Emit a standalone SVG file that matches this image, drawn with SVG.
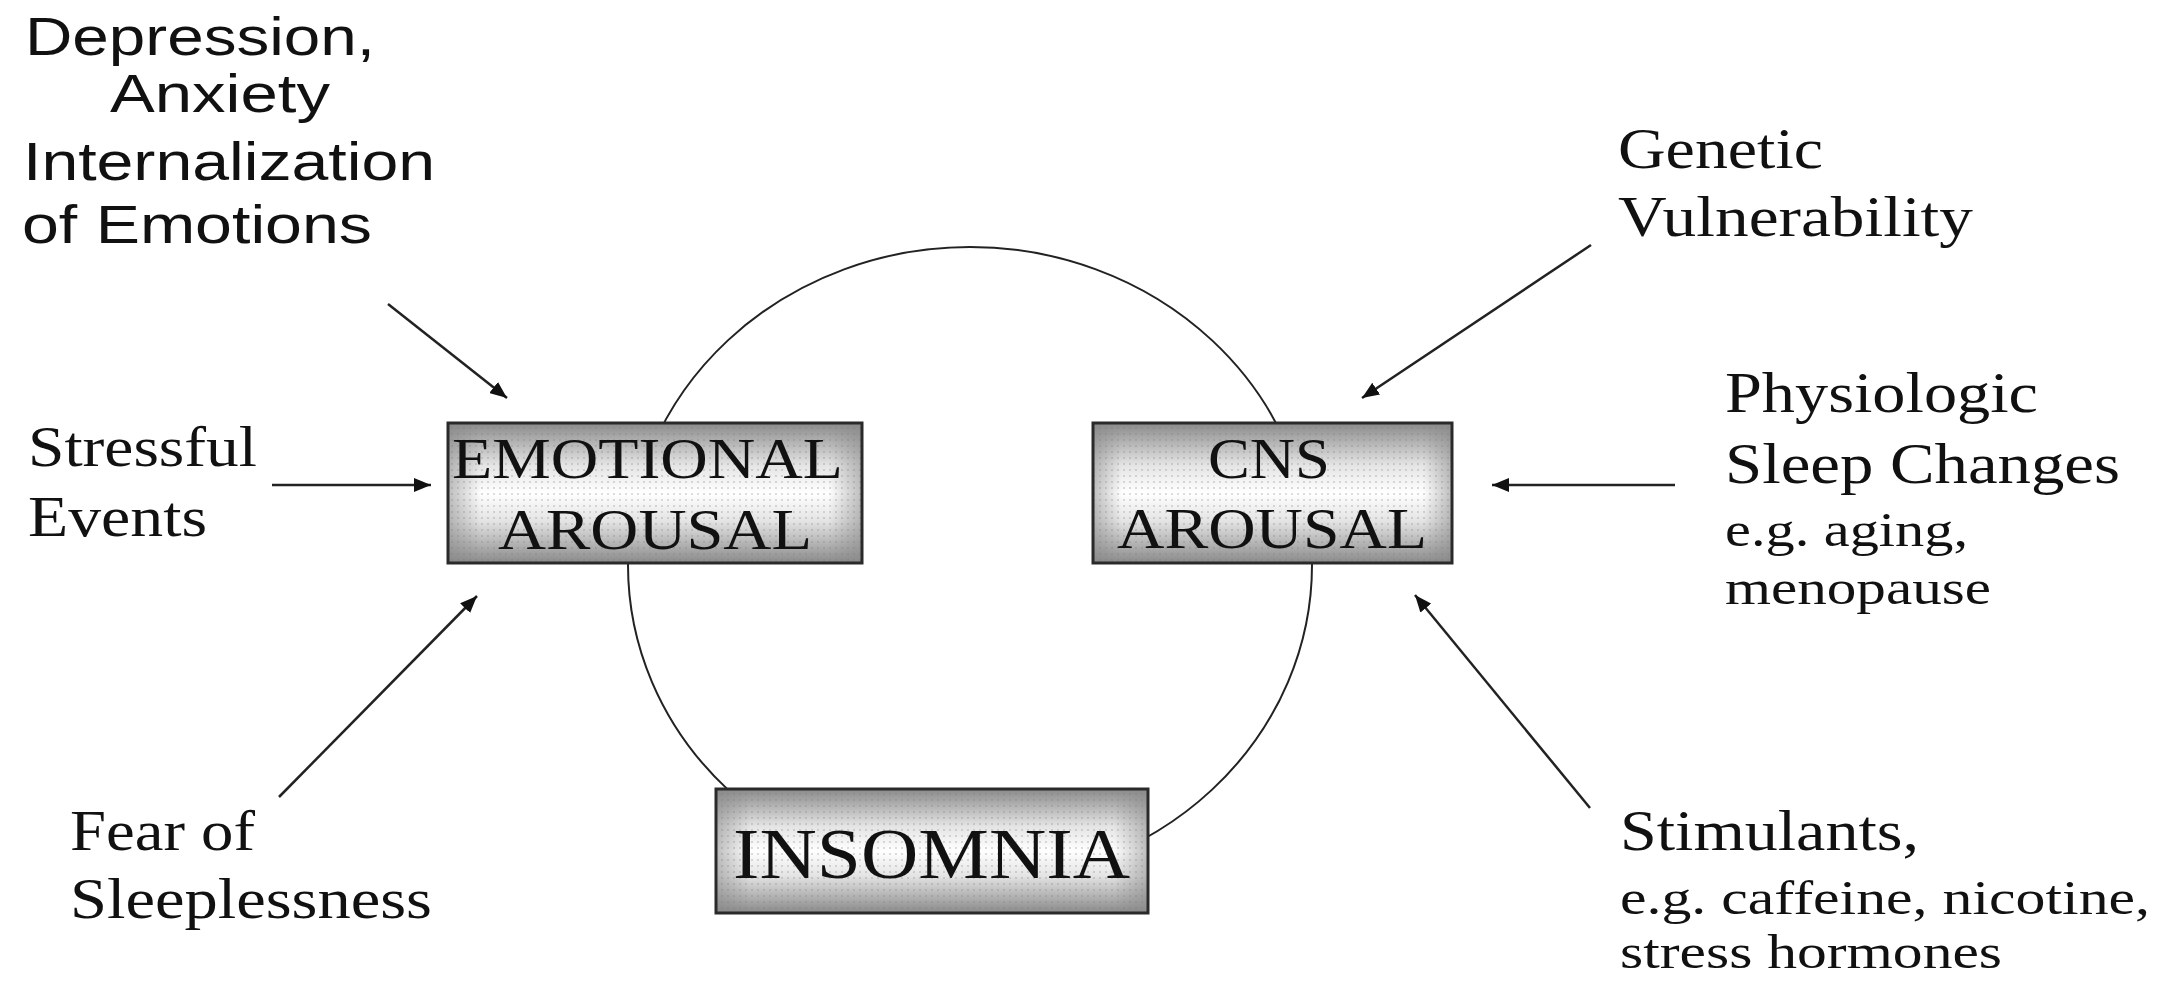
<svg xmlns="http://www.w3.org/2000/svg" width="2165" height="982" viewBox="0 0 2165 982">
<style>
.serif{font-family:"Liberation Serif","Times New Roman",serif;fill:#111}
.sans{font-family:"Liberation Sans",Arial,sans-serif;fill:#111}
.big{font-size:58px}
.small{font-size:48px}
.box{stroke:#2a2a2a;stroke-width:3}
.conn{stroke:#222;stroke-width:2.5;fill:none}
.cycle{stroke:#222;stroke-width:2;fill:none}
</style>
<defs>
<linearGradient id="gv" x1="0" y1="0" x2="0" y2="1">
<stop offset="0" stop-color="#8a8a8a"/>
<stop offset="0.3" stop-color="#e4e4e4"/>
<stop offset="0.5" stop-color="#ffffff"/>
<stop offset="0.7" stop-color="#e4e4e4"/>
<stop offset="1" stop-color="#8a8a8a"/>
</linearGradient>
<linearGradient id="gh" x1="0" y1="0" x2="1" y2="0">
<stop offset="0" stop-color="#888" stop-opacity="0.55"/>
<stop offset="0.08" stop-color="#888" stop-opacity="0"/>
<stop offset="0.92" stop-color="#888" stop-opacity="0"/>
<stop offset="1" stop-color="#888" stop-opacity="0.55"/>
</linearGradient>
<pattern id="dots" width="6" height="6" patternUnits="userSpaceOnUse">
<rect x="1" y="1" width="2" height="2" fill="#777" fill-opacity="0.25"/>
</pattern>
<marker id="ah" markerUnits="userSpaceOnUse" markerWidth="18" markerHeight="14" refX="17" refY="7" orient="auto">
<path d="M0,0 L17,7 L0,14 z" fill="#111"/>
</marker>
</defs>
<rect width="2165" height="982" fill="#fff"/>
<g id="connectors">
<ellipse class="cycle" cx="970" cy="565" rx="342" ry="318"/>
<line class="conn" x1="388" y1="304" x2="507" y2="398" marker-end="url(#ah)"/>
<line class="conn" x1="272" y1="485" x2="431" y2="485" marker-end="url(#ah)"/>
<line class="conn" x1="279" y1="797" x2="477" y2="596" marker-end="url(#ah)"/>
<line class="conn" x1="1591" y1="245" x2="1362" y2="398" marker-end="url(#ah)"/>
<line class="conn" x1="1675" y1="485" x2="1492" y2="485" marker-end="url(#ah)"/>
<line class="conn" x1="1590" y1="808" x2="1415" y2="595" marker-end="url(#ah)"/>
</g>
<g id="emotional-arousal">
<rect x="448" y="423" width="414" height="140" fill="url(#gv)"/>
<rect x="448" y="423" width="414" height="140" fill="url(#gh)"/>
<rect x="448" y="423" width="414" height="140" fill="url(#dots)"/>
<rect class="box" x="448" y="423" width="414" height="140" fill="none"/>
<text class="serif" font-size="56" x="452" y="478" textLength="391" lengthAdjust="spacingAndGlyphs">EMOTIONAL</text>
<text class="serif" font-size="56" x="498" y="549" textLength="314" lengthAdjust="spacingAndGlyphs">AROUSAL</text>
</g>
<g id="cns-arousal">
<rect x="1093" y="423" width="359" height="140" fill="url(#gv)"/>
<rect x="1093" y="423" width="359" height="140" fill="url(#gh)"/>
<rect x="1093" y="423" width="359" height="140" fill="url(#dots)"/>
<rect class="box" x="1093" y="423" width="359" height="140" fill="none"/>
<text class="serif" font-size="56" x="1208" y="478" textLength="122" lengthAdjust="spacingAndGlyphs">CNS</text>
<text class="serif" font-size="56" x="1117" y="548" textLength="310" lengthAdjust="spacingAndGlyphs">AROUSAL</text>
</g>
<g id="insomnia">
<rect x="716" y="789" width="432" height="124" fill="url(#gv)"/>
<rect x="716" y="789" width="432" height="124" fill="url(#gh)"/>
<rect x="716" y="789" width="432" height="124" fill="url(#dots)"/>
<rect class="box" x="716" y="789" width="432" height="124" fill="none"/>
<text class="serif" font-size="72" x="733" y="878" textLength="397" lengthAdjust="spacingAndGlyphs">INSOMNIA</text>
</g>
<g id="depression-anxiety">
<text class="sans" font-size="54" x="25" y="55" textLength="350" lengthAdjust="spacingAndGlyphs">Depression,</text>
<text class="sans" font-size="54" x="110" y="112" textLength="220" lengthAdjust="spacingAndGlyphs">Anxiety</text>
<text class="sans" font-size="54" x="23" y="180" textLength="412" lengthAdjust="spacingAndGlyphs">Internalization</text>
<text class="sans" font-size="54" x="22" y="243" textLength="350" lengthAdjust="spacingAndGlyphs">of Emotions</text>
</g>
<g id="stressful-events">
<text class="serif big" x="28" y="466" textLength="229" lengthAdjust="spacingAndGlyphs">Stressful</text>
<text class="serif big" x="28" y="536" textLength="179" lengthAdjust="spacingAndGlyphs">Events</text>
</g>
<g id="fear-of-sleeplessness">
<text class="serif big" x="70" y="850" textLength="185" lengthAdjust="spacingAndGlyphs">Fear of</text>
<text class="serif big" x="70" y="918" textLength="362" lengthAdjust="spacingAndGlyphs">Sleeplessness</text>
</g>
<g id="genetic-vulnerability">
<text class="serif big" x="1618" y="168" textLength="205" lengthAdjust="spacingAndGlyphs">Genetic</text>
<text class="serif big" x="1618" y="236" textLength="355" lengthAdjust="spacingAndGlyphs">Vulnerability</text>
</g>
<g id="physiologic-sleep-changes">
<text class="serif big" x="1725" y="412" textLength="313" lengthAdjust="spacingAndGlyphs">Physiologic</text>
<text class="serif big" x="1725" y="483" textLength="395" lengthAdjust="spacingAndGlyphs">Sleep Changes</text>
<text class="serif small" x="1725" y="546" textLength="243" lengthAdjust="spacingAndGlyphs">e.g. aging,</text>
<text class="serif small" x="1725" y="604" textLength="266" lengthAdjust="spacingAndGlyphs">menopause</text>
</g>
<g id="stimulants">
<text class="serif big" x="1620" y="850" textLength="299" lengthAdjust="spacingAndGlyphs">Stimulants,</text>
<text class="serif small" x="1620" y="914" textLength="530" lengthAdjust="spacingAndGlyphs">e.g. caffeine, nicotine,</text>
<text class="serif small" x="1620" y="968" textLength="382" lengthAdjust="spacingAndGlyphs">stress hormones</text>
</g>
</svg>
